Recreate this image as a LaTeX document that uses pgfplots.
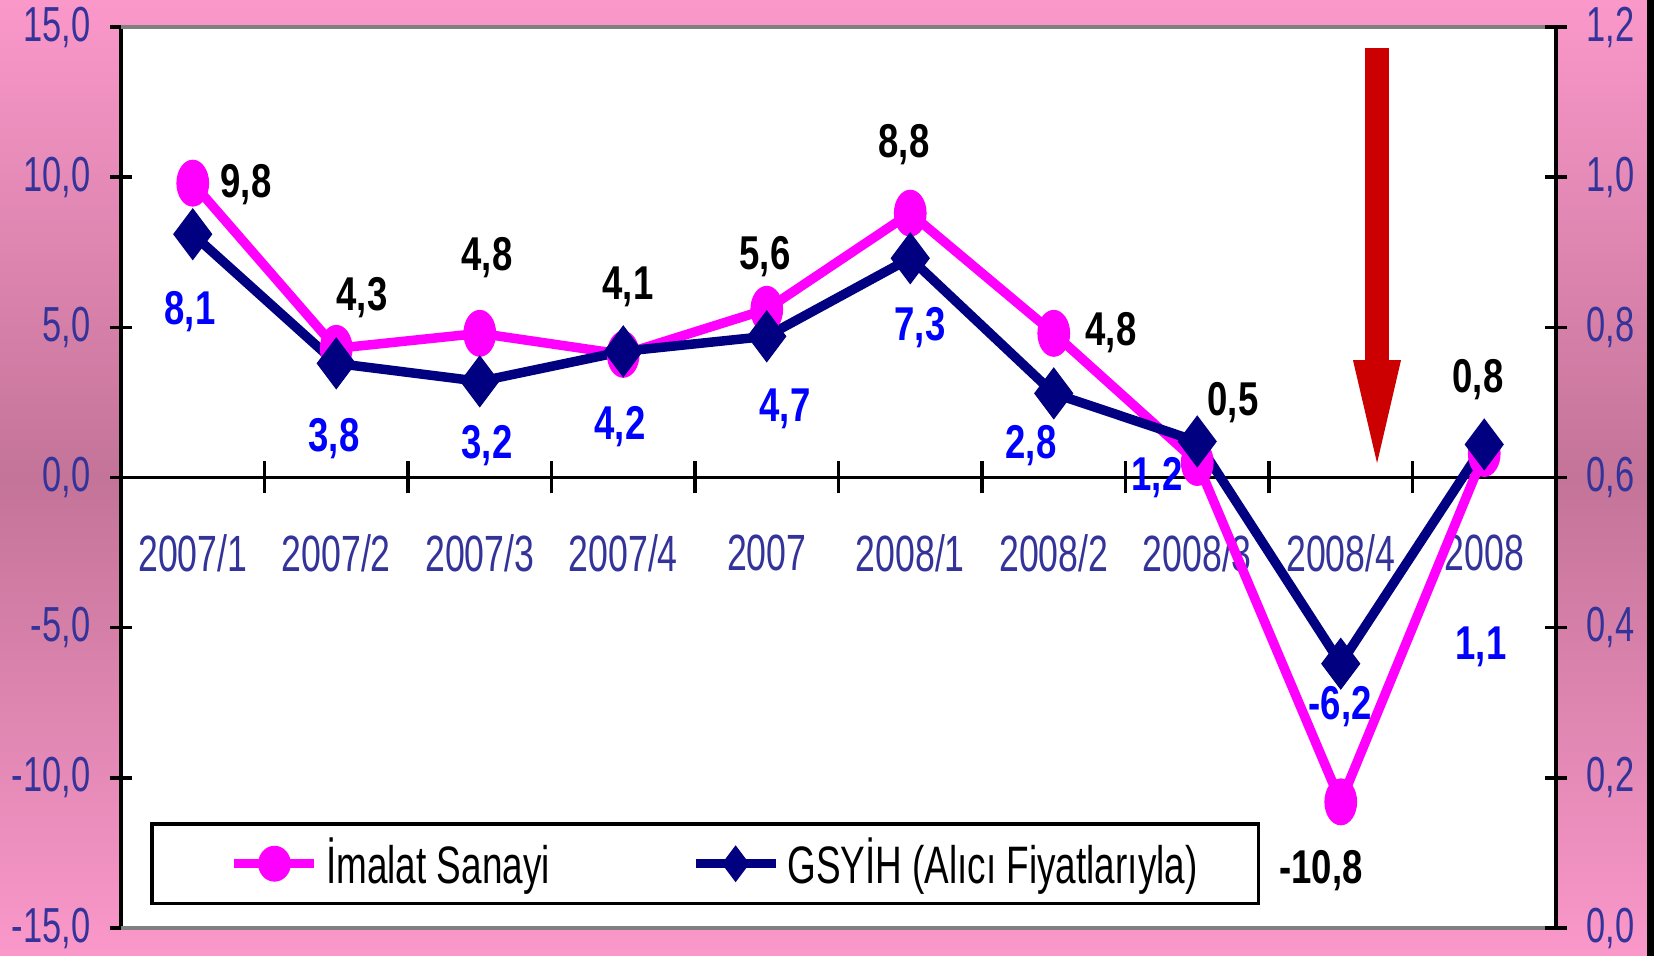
\documentclass[border=0pt]{standalone}
\usepackage{fontspec}
\setmainfont[FakeStretch=0.7]{Liberation Sans}
\newfontfamily\lblfont[FakeStretch=0.77]{Liberation Sans}
\usepackage{pgfplots}
\pgfplotsset{compat=1.18}
\definecolor{pinkTop}{RGB}{250,152,202}
\definecolor{pinkMid}{RGB}{196,116,152}
\definecolor{ticktxt}{RGB}{51,51,153}
\definecolor{navyc}{RGB}{0,0,128}
\definecolor{magc}{RGB}{255,0,255}
\definecolor{arrowred}{RGB}{204,0,0}
\definecolor{lblblue}{RGB}{0,0,255}
\tikzset{
  bl/.style={font=\lblfont\bfseries\fontsize{13.5}{15}\selectfont, text=black, inner sep=0pt},
  bu/.style={font=\lblfont\bfseries\fontsize{13.5}{15}\selectfont, text=lblblue, inner sep=0pt},
}
\pgfplotsset{
  magleg/.style={legend image code/.code={\path (-0.24cm,0cm); \draw[mark repeat=2,mark phase=2,##1, mark options={yscale=1.1, solid, line width=0.3pt}] plot coordinates {(0cm,0cm)(0.4cm,0cm)(0.8cm,0cm)};}},
  navleg/.style={legend image code/.code={\draw[mark repeat=2,mark phase=2,##1, mark size=5pt] plot coordinates {(0cm,0cm)(0.4cm,0cm)(0.8cm,0cm)};}},
}
\begin{document}
\begin{tikzpicture}
\shade[top color=pinkTop, bottom color=pinkTop, middle color=pinkMid] (0,0) rectangle (165.4mm,95.6mm);
\path[use as bounding box] (0,0) rectangle (165.4mm,95.6mm);

\begin{axis}[
  at={(12.1mm,2.8mm)}, anchor=south west,
  scale only axis, width=143.5mm, height=90.1mm,
  xmin=-0.5, xmax=9.5, ymin=-15, ymax=15,
  axis y line*=left, axis x line*=middle,
  hide obscured x ticks=false, hide obscured y ticks=false,
  axis background/.style={fill=white},
  axis line style={black, line width=1.1pt},
  clip=false,
  xtick={0,...,9},
  xticklabels={2007/1,2007/2,2007/3,2007/4,2007,2008/1,2008/2,2008/3,2008/4,2008},
  minor xtick={0.5,1.5,2.5,3.5,4.5,5.5,6.5,7.5,8.5},
  ytick={-15,-10,-5,0,5,10,15},
  tick align=center,
  major tick length=2.2mm,
  minor tick length=3.2mm,
  major x tick style={draw=none},
  tick style={black, line width=1pt},
  /pgf/number format/fixed,
  /pgf/number format/fixed zerofill,
  /pgf/number format/precision=1,
  /pgf/number format/use comma,
  /pgf/number format/assume math mode=true,
  yticklabel style={font=\fontsize{14}{16}\selectfont, text=ticktxt, anchor=east, inner sep=0pt, xshift=-1.9mm},
  xticklabel style={font=\fontsize{14.5}{17}\selectfont, text=ticktxt, anchor=center, inner sep=0pt, yshift=-6.45mm},
  legend style={at={(0.0202,0.0255)}, anchor=south west, draw=black, line width=1pt, fill=white,
    font=\fontsize{15}{18}\selectfont, legend columns=2, inner xsep=5.4mm, inner ysep=0.7mm,
    /tikz/every even column/.append style={column sep=13.4mm}},
  legend cell align=left,
]
\draw[gray, line width=1pt] (rel axis cs:0,1) -- (rel axis cs:1,1);
\draw[gray, line width=1pt] (rel axis cs:0,0) -- (rel axis cs:1,0);

\fill[arrowred] (axis cs:8.169,14.30) -- (axis cs:8.336,14.30) -- (axis cs:8.336,3.91) -- (axis cs:8.420,3.91)
  -- (axis cs:8.253,0.48) -- (axis cs:8.085,3.91) -- (axis cs:8.169,3.91) -- cycle;

\addplot[magc, line width=2.7pt, mark=*, mark size=4.5pt,
  mark options={yscale=1.45, solid, line width=0.3pt}, magleg]
  coordinates {(0,9.8)(1,4.3)(2,4.8)(3,4.1)(4,5.6)(5,8.8)(6,4.8)(7,0.5)(8,-10.8)(9,0.8)};
\addlegendentry{İmalat Sanayi}
\addplot[navyc, line width=2.7pt, mark=diamond*, mark size=7.2pt,
  mark options={solid, line width=0.3pt}, navleg]
  coordinates {(0,8.1)(1,3.8)(2,3.2)(3,4.2)(4,4.7)(5,7.3)(6,2.8)(7,1.2)(8,-6.2)(9,1.1)};
\addlegendentry{GSYİH (Alıcı Fiyatlarıyla)}

\node[bl] at (axis cs:0.371,9.74) {9,8};
\node[bl] at (axis cs:1.179,5.98) {4,3};
\node[bl] at (axis cs:2.051,7.31) {4,8};
\node[bl] at (axis cs:3.033,6.34) {4,1};
\node[bl] at (axis cs:3.988,7.34) {5,6};
\node[bl] at (axis cs:4.956,11.07) {8,8};
\node[bl] at (axis cs:6.399,4.81) {4,8};
\node[bl] at (axis cs:7.249,2.48) {0,5};
\node[bl] at (axis cs:7.862,-13.10) {-10,8};
\node[bl] at (axis cs:8.956,3.25) {0,8};

\node[bu] at (axis cs:-0.019,5.51) {8,1};
\node[bu] at (axis cs:0.984,1.28) {3,8};
\node[bu] at (axis cs:2.051,1.05) {3,2};
\node[bu] at (axis cs:2.977,1.68) {4,2};
\node[bu] at (axis cs:4.127,2.28) {4,7};
\node[bu] at (axis cs:5.068,4.98) {7,3};
\node[bu] at (axis cs:5.841,1.05) {2,8};
\node[bu] at (axis cs:6.720,-0.02) {1,2};
\node[bu] at (axis cs:7.995,-7.64) {-6,2};
\node[bu] at (axis cs:8.977,-5.64) {1,1};
\end{axis}

\begin{axis}[
  at={(12.1mm,2.8mm)}, anchor=south west,
  scale only axis, width=143.5mm, height=90.1mm,
  xmin=-0.5, xmax=9.5, ymin=0, ymax=1.2,
  axis y line*=right, axis x line=none,
  axis line style={black, line width=1.1pt},
  ytick={0,0.2,0.4,0.6,0.8,1,1.2},
  tick align=center,
  major tick length=2.2mm,
  tick style={black, line width=1pt},
  /pgf/number format/fixed,
  /pgf/number format/fixed zerofill,
  /pgf/number format/precision=1,
  /pgf/number format/use comma,
  /pgf/number format/assume math mode=true,
  yticklabel style={font=\fontsize{14}{16}\selectfont, text=ticktxt, anchor=west, inner sep=0pt, xshift=1.9mm},
]
\end{axis}
\fill[black] (164.7mm,0) rectangle (165.4mm,95.6mm);
\end{tikzpicture}
\end{document}
